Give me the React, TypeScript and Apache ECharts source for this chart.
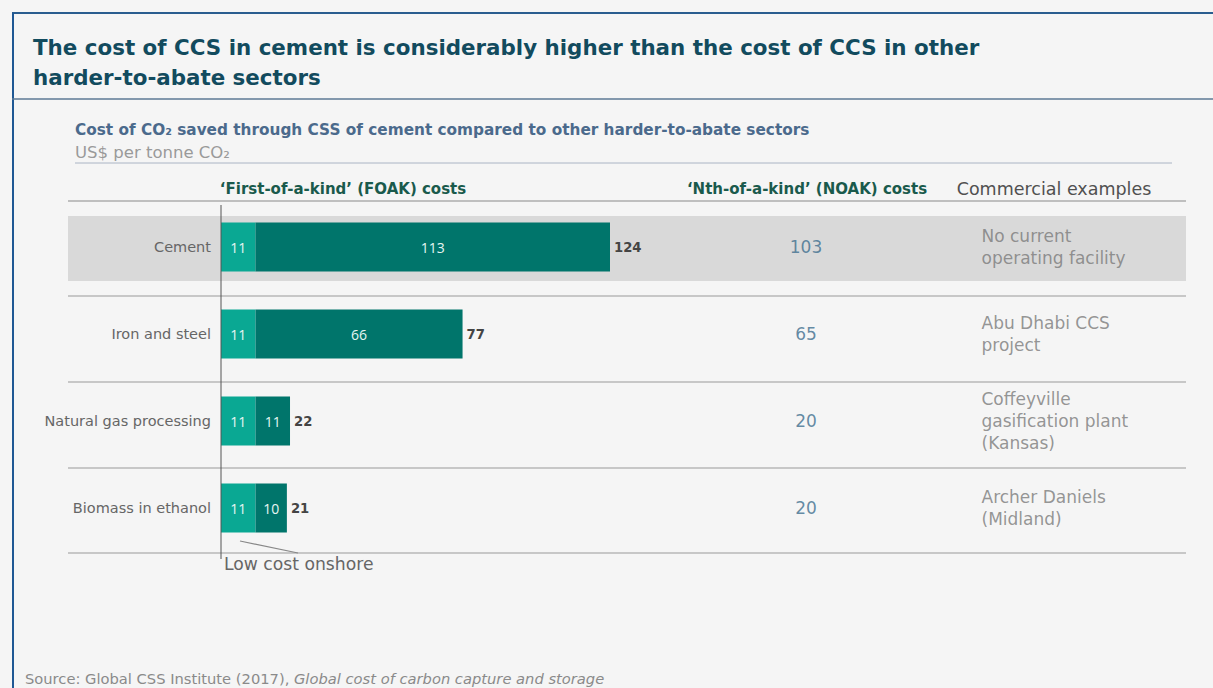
import React, { useEffect, useRef } from "react";
import * as echarts from "echarts";

const categories = ["Cement", "Iron and steel", "Natural gas processing", "Biomass in ethanol"];
const lowCostOnshore = [11, 11, 11, 11];
const captureCost = [113, 66, 11, 10];
const foakTotal = [124, 77, 22, 21];
const noakCost = [103, 65, 20, 20];
const commercialExamples = [
  "No current\noperating facility",
  "Abu Dhabi CCS\nproject",
  "Coffeyville\ngasification plant\n(Kansas)",
  "Archer Daniels\n(Midland)",
];

const titleText =
  "The cost of CCS in cement is considerably higher than the cost of CCS in other\nharder-to-abate sectors";
const subtitleText = "Cost of CO\u2082 saved through CSS of cement compared to other harder-to-abate sectors";
const unitText = "US$ per tonne CO\u2082";
const headers = ["\u2018First-of-a-kind\u2019 (FOAK) costs", "\u2018Nth-of-a-kind\u2019 (NOAK) costs", "Commercial examples"];
const footnote = "Low cost onshore";

const FONT = "'DejaVu Sans', sans-serif";
const NUMFONT = "'Open Sans', sans-serif";
const GRID_TOP = 203.5;
const GRID_H = 348;

export default function App() {
  const ref = useRef<HTMLDivElement>(null);
  useEffect(() => {
    if (!ref.current) return;
    const chart = echarts.init(ref.current, undefined, { renderer: "svg" });
    const hiddenCatY = (gi: number) => ({
      type: "category",
      gridIndex: gi,
      data: categories,
      inverse: true,
      show: false,
    });
    const hiddenValX = (gi: number) => ({ type: "value", gridIndex: gi, min: 0, max: 1, show: false });
    const sepLines = [296, 382, 468, 553].map((y) => ({
      type: "line",
      shape: { x1: 68, y1: y, x2: 1186, y2: y },
      style: { stroke: "#9a9a9a", lineWidth: 1.2 },
    }));
    chart.setOption({
      animation: false,
      backgroundColor: "#f5f5f5",
      textStyle: { fontFamily: FONT },
      grid: [
        { left: 221, top: GRID_TOP, width: 389, height: GRID_H },
        { left: 806, top: GRID_TOP, width: 100, height: GRID_H },
        { left: 981, top: GRID_TOP, width: 100, height: GRID_H },
      ],
      xAxis: [
        { type: "value", gridIndex: 0, min: 0, max: Math.max(...foakTotal), show: false },
        hiddenValX(1),
        hiddenValX(2),
      ],
      yAxis: [
        {
          type: "category",
          gridIndex: 0,
          data: categories,
          inverse: true,
          axisLine: { show: false },
          axisTick: { show: false },
          axisLabel: { color: "#666", fontSize: 14.5, margin: 10, fontFamily: FONT },
        },
        hiddenCatY(1),
        hiddenCatY(2),
      ],
      graphic: [
        { type: "rect", z: -10, shape: { x: 68, y: 216, width: 1118, height: 65 }, style: { fill: "#d9d9d9" } },
        { type: "line", shape: { x1: 12, y1: 13, x2: 1213, y2: 13 }, style: { stroke: "#2a5d8f", lineWidth: 2 } },
        { type: "line", shape: { x1: 13, y1: 13, x2: 13, y2: 688 }, style: { stroke: "#1f5894", lineWidth: 2 } },
        { type: "line", shape: { x1: 12, y1: 99, x2: 1213, y2: 99 }, style: { stroke: "#5c7894", lineWidth: 1.5 } },
        {
          type: "text",
          x: 33,
          y: 32,
          style: { text: titleText, fill: "#124b5e", font: `bold 21.4px ${FONT}`, lineHeight: 30 },
        },
        {
          type: "text",
          x: 75,
          y: 130,
          style: { text: subtitleText, fill: "#4b6a8c", font: `bold 15.3px ${FONT}`, verticalAlign: "middle" },
        },
        {
          type: "text",
          x: 75,
          y: 152,
          style: { text: unitText, fill: "#9a9a9a", font: `16.5px ${FONT}`, verticalAlign: "middle" },
        },
        { type: "line", shape: { x1: 75, y1: 163, x2: 1172, y2: 163 }, style: { stroke: "#aab4c4", lineWidth: 1 } },
        {
          type: "text",
          x: 343,
          y: 189,
          style: { text: headers[0], fill: "#1a5a4c", font: `bold 15px ${FONT}`, align: "center", verticalAlign: "middle" },
        },
        {
          type: "text",
          x: 807,
          y: 189,
          style: { text: headers[1], fill: "#1a5a4c", font: `bold 15px ${FONT}`, align: "center", verticalAlign: "middle" },
        },
        {
          type: "text",
          x: 1054,
          y: 189,
          style: { text: headers[2], fill: "#505050", font: `17.5px ${FONT}`, align: "center", verticalAlign: "middle" },
        },
        { type: "line", shape: { x1: 68, y1: 201, x2: 1186, y2: 201 }, style: { stroke: "#8a8a8a", lineWidth: 1.2 } },
        ...sepLines,
        { type: "line", z: 10, shape: { x1: 221, y1: 205, x2: 221, y2: 559 }, style: { stroke: "#555", lineWidth: 1 } },
        { type: "line", shape: { x1: 240, y1: 541, x2: 298, y2: 553 }, style: { stroke: "#888", lineWidth: 1.2 } },
        {
          type: "text",
          x: 224,
          y: 564,
          style: { text: footnote, fill: "#666", font: `17.2px ${FONT}`, verticalAlign: "middle" },
        },
        {
          type: "text",
          x: 25,
          y: 678,
          style: {
            text: "{n|Source: Global CSS Institute (2017), }{i|Global cost of carbon capture and storage}",
            verticalAlign: "middle",
            rich: {
              n: { fill: "#8a8a8a", font: `14.7px ${FONT}` },
              i: { fill: "#8a8a8a", font: `italic 14.7px ${FONT}` },
            },
          },
        },
      ],
      series: [
        {
          name: "Low cost onshore",
          type: "bar",
          stack: "foak",
          xAxisIndex: 0,
          yAxisIndex: 0,
          barWidth: 49,
          data: lowCostOnshore,
          itemStyle: { color: "#0aa893" },
          label: { show: true, position: "inside", color: "#e6f5f2", fontSize: 14, fontFamily: NUMFONT },
        },
        {
          name: "Capture",
          type: "bar",
          stack: "foak",
          xAxisIndex: 0,
          yAxisIndex: 0,
          barWidth: 49,
          data: captureCost,
          itemStyle: { color: "#00756b" },
          label: { show: true, position: "inside", color: "#e6f5f2", fontSize: 14, fontFamily: NUMFONT },
        },
        {
          name: "Total",
          type: "bar",
          xAxisIndex: 0,
          yAxisIndex: 0,
          barWidth: 49,
          barGap: "-100%",
          z: 1,
          silent: true,
          data: foakTotal,
          itemStyle: { color: "rgba(0,0,0,0)" },
          label: {
            show: true,
            position: "right",
            distance: 4,
            color: "#444",
            fontWeight: "bold",
            fontSize: 13.2,
            fontFamily: FONT,
          },
        },
        {
          name: "NOAK",
          type: "scatter",
          xAxisIndex: 1,
          yAxisIndex: 1,
          symbolSize: 1,
          itemStyle: { color: "rgba(0,0,0,0)" },
          data: categories.map((c, i) => [0, c, noakCost[i]]),
          label: {
            show: true,
            position: "inside",
            color: "#3d6e8e",
            fontSize: 17,
            fontFamily: FONT,
            formatter: (p: any) => String(p.value[2]),
          },
        },
        {
          name: "Commercial examples",
          type: "scatter",
          xAxisIndex: 2,
          yAxisIndex: 2,
          symbolSize: 1,
          itemStyle: { color: "rgba(0,0,0,0)" },
          data: categories.map((c) => [0, c]),
          label: {
            show: true,
            position: "right",
            distance: 0,
            color: "#7b7b7b",
            fontSize: 17,
            lineHeight: 22,
            fontFamily: FONT,
            formatter: (p: any) => commercialExamples[p.dataIndex],
          },
        },
      ],
    });
    return () => chart.dispose();
  }, []);
  return (
    <div
      ref={ref}
      style={{ position: "fixed", left: 0, top: 0, width: 1213, height: 688 }}
    />
  );
}
